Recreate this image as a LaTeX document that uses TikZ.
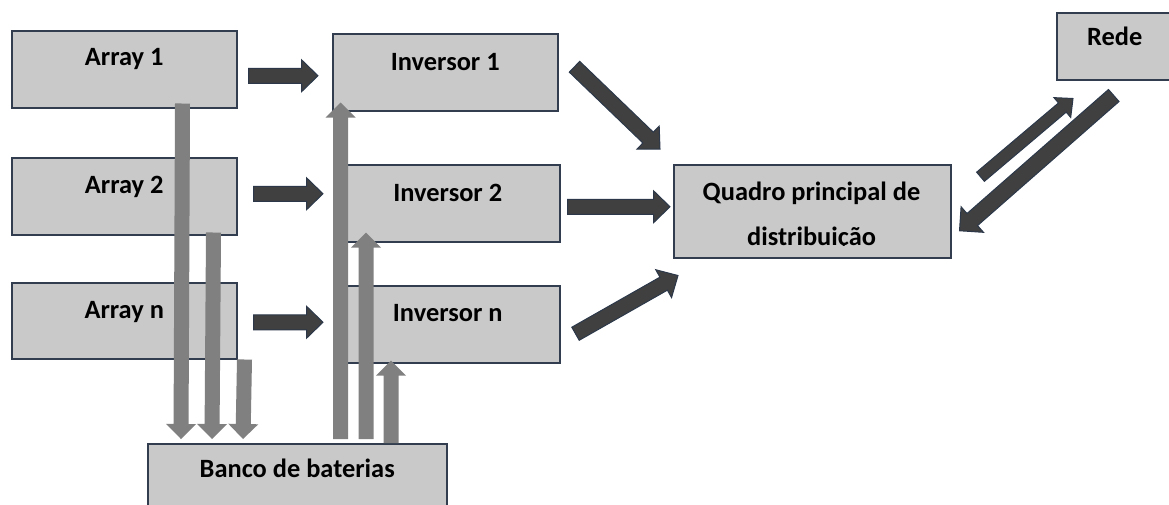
\documentclass[tikz,border=0pt]{standalone}
\usepackage{fontspec}
\setmainfont{Carlito}
\usetikzlibrary{calc}

\definecolor{boxfill}{RGB}{201,201,201}
\definecolor{boxline}{RGB}{50,62,79}
\definecolor{darkarrow}{RGB}{64,64,64}
\definecolor{darkedge}{RGB}{44,56,74}
\definecolor{grayarrow}{RGB}{128,128,128}

% block arrow: [style]{tail}{tip}{half shaft}{half head}{head length}
\newcommand\blkarrow[6][]{%
  \coordinate (ba-b) at ($(#3)!#6!(#2)$);
  \path[#1] ($(#2)!#4!90:(#3)$) -- ($(ba-b)!#4!90:(#3)$) -- ($(ba-b)!#5!90:(#3)$)
    -- (#3) -- ($(ba-b)!#5!-90:(#3)$) -- ($(ba-b)!#4!-90:(#3)$)
    -- ($(#2)!#4!-90:(#3)$) -- cycle;
}

\tikzset{
  box/.style={draw=boxline, fill=boxfill, line width=1.5pt, inner sep=0pt,
    anchor=north west, font=\fontsize{26.4}{31}\selectfont\bfseries},
  lbl/.style={inner sep=0pt, anchor=base, font=\fontsize{26.4}{31}\selectfont\bfseries},
  darkblk/.style={fill=darkarrow, draw=darkedge, line width=1pt, line join=miter},
  grayblk/.style={fill=grayarrow},
}

\begin{document}
\begin{tikzpicture}[x=1pt, y=-1pt]
\useasboundingbox (0,0) rectangle (1169,504);
\clip (0,0) rectangle (1169,504);

% boxes
\node[box, minimum width=225pt, text height=35pt, text depth=42pt] (arr1) at (11,30) {Array 1};
\node[box, minimum width=225pt, text height=36pt, text depth=41pt] (arr2) at (11,157) {Array 2};
\node[box, minimum width=225pt, text height=36pt, text depth=40pt] (arrn) at (11,282) {Array n};
\node[box, minimum width=225pt, text height=37pt, text depth=40pt] (inv1) at (332,33) {Inversor 1};
\node[box, minimum width=224pt, text height=37pt, text depth=40pt] (inv2) at (335,164) {Inversor 2};
\node[box, minimum width=224pt, text height=36pt, text depth=41pt] (invn) at (335,285) {Inversor n};
\node[box, minimum width=299pt, text height=34pt, text depth=43pt] (bank) at (147,443) {Banco de baterias};
\node[box, minimum width=116pt, text height=33pt, text depth=34pt] (rede) at (1056,12) {Rede};
\node[box, minimum width=277pt, minimum height=93pt] (quadro) at (673,164) {};
% the second line is cut just below its baseline
\begin{scope}
  \clip (673,164) rectangle (950,245.8);
  \node[lbl] (qt1) at (811.5,200) {Quadro principal de};
  \node[lbl] (qt2) at (811.5,245) {distribuição};
\end{scope}

% arrow end points
\coordinate (a1s) at ($(arr1.east)+(11,6.5)$);
\coordinate (a1e) at ($(inv1.west)+(-14,3.5)$);
\coordinate (a2s) at ($(arr2.east)+(16,-2.5)$);
\coordinate (a2e) at ($(inv2.west)+(-12,-9.5)$);
\coordinate (a3s) at ($(arrn.east)+(16,1.5)$);
\coordinate (a3e) at ($(invn.west)+(-12,-2)$);
\coordinate (d1s) at ($(inv1.east)+(16,-5.5)$);
\coordinate (d1e) at ($(quadro.north west)+(-13,-15)$);
\coordinate (d2s) at ($(inv2.east)+(7,3.5)$);
\coordinate (d2e) at ($(quadro.west)+(-3,-4.5)$);
\coordinate (d3s) at ($(invn.east)+(15,9.5)$);
\coordinate (d3e) at ($(quadro.south west)+(5,17)$);
\coordinate (r1s) at ($(quadro.east)+(29,-34.5)$);
\coordinate (r1e) at ($(rede.south west)+(17,18)$);
\coordinate (r2s) at ($(rede.south)+(-1,15)$);
\coordinate (r2e) at ($(quadro.east)+(8,19.5)$);

\coordinate (g1s) at ($(arr1.south east)+(-55,-5)$);
\coordinate (g1e) at ($(bank.north west)+(34,-4)$);
\coordinate (g2s) at ($(arr2.south east)+(-24,-3)$);
\coordinate (g2e) at ($(bank.north west)+(65,-4)$);
\coordinate (g3s) at ($(arrn.south east)+(7,0)$);
\coordinate (g3e) at ($(bank.north west)+(96,-4)$);
\coordinate (u1s) at ($(bank.north west)+(193.5,-4)$);
\coordinate (u1e) at ($(inv1.south west)+(8.5,-9)$);
\coordinate (u2s) at ($(bank.north west)+(219,-4)$);
\coordinate (u2e) at ($(inv2.south west)+(31,-10)$);
\coordinate (u3s) at ($(bank.north west)+(244,0)$);
\coordinate (u3e) at ($(invn.south west)+(56,-3)$);

% dark power-flow arrows
\blkarrow[darkblk]{a1s}{a1e}{7.5pt}{16pt}{16.5pt}
\blkarrow[darkblk]{a2s}{a2e}{7.5pt}{16pt}{16.5pt}
\blkarrow[darkblk]{a3s}{a3e}{7.5pt}{16pt}{16.5pt}
\blkarrow[darkblk]{d1s}{d1e}{7.5pt}{16pt}{16.5pt}
\blkarrow[darkblk]{d2s}{d2e}{7.5pt}{16pt}{16.5pt}
\blkarrow[darkblk]{d3s}{d3e}{7.5pt}{16pt}{16.5pt}
\blkarrow[darkblk]{r1s}{r1e}{6pt}{13pt}{14pt}
\blkarrow[darkblk]{r2s}{r2e}{8pt}{17pt}{17pt}

% gray battery arrows
\blkarrow[grayblk]{g1s}{g1e}{7.5pt}{15pt}{15pt}
\blkarrow[grayblk]{g2s}{g2e}{7.5pt}{15pt}{15pt}
\blkarrow[grayblk]{g3s}{g3e}{7.5pt}{15pt}{15pt}
\blkarrow[grayblk]{u1s}{u1e}{7.5pt}{15pt}{15pt}
\blkarrow[grayblk]{u2s}{u2e}{7.5pt}{15pt}{15pt}
\blkarrow[grayblk]{u3s}{u3e}{7.5pt}{15pt}{15pt}
\end{tikzpicture}
\end{document}
